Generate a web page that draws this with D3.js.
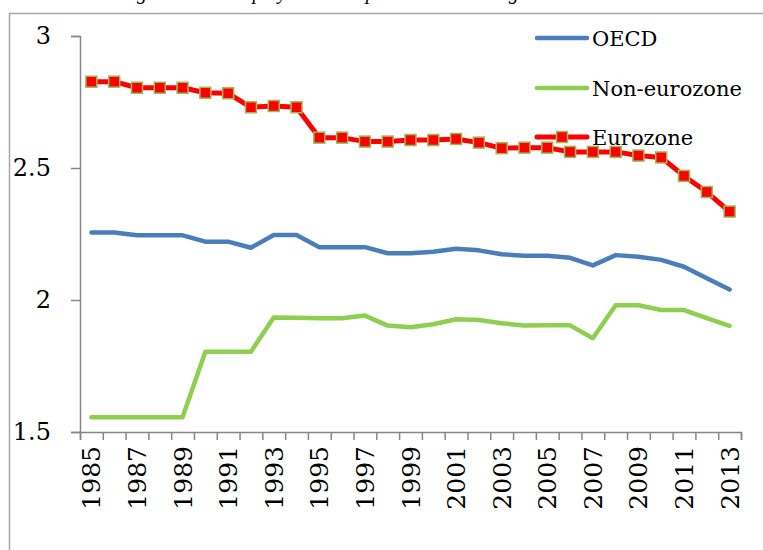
<!DOCTYPE html>
<html>
<head>
<meta charset="utf-8">
<script src="https://cdn.jsdelivr.net/npm/d3@7"></script>
<style>
  html, body { margin: 0; padding: 0; background: #fff; }
  svg { display: block; }
</style>
</head>
<body>
<div id="chart"></div>
<script>
const years = d3.range(1985, 2014);
const yTicks = [1.5, 2, 2.5, 3];
const seriesNames = ["OECD", "Non-eurozone", "Eurozone"];
const captionText = "Trends in regulation in employment and product market regulation";

const oecd = [2.256, 2.256, 2.245, 2.245, 2.245, 2.221, 2.221, 2.198, 2.246, 2.246,
  2.2, 2.2, 2.2, 2.177, 2.177, 2.183, 2.194, 2.188, 2.173, 2.168,
  2.168, 2.16, 2.131, 2.17, 2.164, 2.152, 2.126, 2.082, 2.04];
const nonEurozone = [1.556, 1.556, 1.556, 1.556, 1.556, 1.804, 1.804, 1.804, 1.934, 1.933,
  1.931, 1.931, 1.941, 1.903, 1.897, 1.908, 1.927, 1.924, 1.912, 1.903,
  1.904, 1.904, 1.855, 1.98, 1.98, 1.962, 1.962, 1.931, 1.902];
const eurozone = [2.827, 2.827, 2.804, 2.804, 2.804, 2.785, 2.783, 2.73, 2.735, 2.73,
  2.615, 2.615, 2.6, 2.6, 2.606, 2.606, 2.61, 2.596, 2.575, 2.577,
  2.577, 2.561, 2.561, 2.561, 2.547, 2.54, 2.47, 2.409, 2.335];

(function () {
  const width = 763;
  const height = 550;
  const plot = { left: 80, right: 741, top: 36, bottom: 432 };
  const serif = "'DejaVu Serif', 'Liberation Serif', serif";
  const axisColor = "#868686";
  const colors = { oecd: "#4a7ebb", non: "#8fcf4f", euro: "#ff0000", marker: "#9bbb59" };

  const svg = d3.select("#chart").append("svg")
    .attr("width", width)
    .attr("height", height);

  // caption sits above the frame; the picture is cropped so only descenders show
  const caption = svg.append("text")
    .attr("y", -1.5)
    .attr("font-family", "'Liberation Serif', serif")
    .attr("font-style", "italic")
    .attr("font-size", 20)
    .attr("fill", "#000")
    .text(captionText);
  const node = caption.node();
  const gFirst = captionText.indexOf("g");
  const gLast = captionText.lastIndexOf("g");
  const span = node.getSubStringLength(0, gLast) - node.getSubStringLength(0, gFirst);
  const fs = 20 * 372 / span;
  caption.attr("font-size", fs);
  caption.attr("x", 137 - node.getSubStringLength(0, gFirst));

  // frame
  svg.append("path")
    .attr("d", `M9.5,${height + 2} V13.5 H${width + 2}`)
    .attr("fill", "none")
    .attr("stroke", "#a6a6a6")
    .attr("stroke-width", 1.5);

  const x = d3.scaleBand().domain(years).range([plot.left, plot.right]);
  const xEdge = d3.scaleLinear().domain([0, years.length]).range([plot.left, plot.right]);
  const y = d3.scaleLinear().domain([1.5, 3]).range([plot.bottom, plot.top]);
  const cx = (d, i) => x(years[i]) + x.bandwidth() / 2;

  // y axis
  svg.append("g")
    .attr("transform", `translate(${plot.left},0)`)
    .call(d3.axisLeft(y).tickValues(yTicks).tickSize(9).tickPadding(20).tickFormat((d) => String(d)))
    .call((g) => g.select(".domain").attr("stroke", axisColor).attr("stroke-width", 1.5))
    .call((g) => g.selectAll(".tick line").attr("stroke", axisColor).attr("stroke-width", 1.5))
    .call((g) => g.selectAll("text")
      .attr("font-family", serif)
      .attr("font-size", 24)
      .attr("fill", "#000"));

  // x axis ticks between categories
  svg.append("g")
    .attr("transform", `translate(0,${plot.bottom})`)
    .call(d3.axisBottom(xEdge).tickValues(d3.range(years.length + 1)).tickSize(8).tickFormat(""))
    .call((g) => g.select(".domain").attr("stroke", axisColor).attr("stroke-width", 1.5))
    .call((g) => g.selectAll(".tick line").attr("stroke", axisColor).attr("stroke-width", 1.5));

  // x labels, every second year
  svg.append("g")
    .attr("transform", `translate(0,${plot.bottom})`)
    .call(d3.axisBottom(x).tickValues(years.filter((d) => (d - 1985) % 2 === 0)).tickSize(0))
    .call((g) => g.select(".domain").remove())
    .call((g) => g.selectAll("text")
      .attr("font-family", serif)
      .attr("font-size", 25)
      .attr("fill", "#000")
      .attr("transform", "rotate(-90)")
      .attr("text-anchor", "end")
      .attr("x", -14)
      .attr("y", 0)
      .attr("dy", "0.36em"));

  const line = d3.line().x(cx).y((d) => y(d));

  svg.append("path")
    .datum(oecd)
    .attr("d", line)
    .attr("fill", "none")
    .attr("stroke", colors.oecd)
    .attr("stroke-width", 4.5)
    .attr("stroke-linejoin", "round")
    .attr("stroke-linecap", "round");

  svg.append("path")
    .datum(nonEurozone)
    .attr("d", line)
    .attr("fill", "none")
    .attr("stroke", colors.non)
    .attr("stroke-width", 4.5)
    .attr("stroke-linejoin", "round")
    .attr("stroke-linecap", "round");

  svg.append("path")
    .datum(eurozone)
    .attr("d", line)
    .attr("fill", "none")
    .attr("stroke", colors.euro)
    .attr("stroke-width", 5)
    .attr("stroke-linejoin", "round");

  const ms = 11;
  svg.append("g")
    .selectAll("rect")
    .data(eurozone)
    .join("rect")
    .attr("x", (d, i) => cx(d, i) - ms / 2)
    .attr("y", (d) => y(d) - ms / 2)
    .attr("width", ms)
    .attr("height", ms)
    .attr("fill", colors.euro)
    .attr("stroke", colors.marker)
    .attr("stroke-width", 1.5);

  // legend
  const legendItems = [
    { name: seriesNames[0], color: colors.oecd, marker: false, y: 38 },
    { name: seriesNames[1], color: colors.non, marker: false, y: 88 },
    { name: seriesNames[2], color: colors.euro, marker: true, y: 137 },
  ];
  const legend = svg.append("g");
  legendItems.forEach((item) => {
    legend.append("line")
      .attr("x1", 537)
      .attr("x2", 587)
      .attr("y1", item.y)
      .attr("y2", item.y)
      .attr("stroke", item.color)
      .attr("stroke-width", item.marker ? 5 : 4.5)
      .attr("stroke-linecap", "round");
    if (item.marker) {
      legend.append("rect")
        .attr("x", 562 - ms / 2)
        .attr("y", item.y - ms / 2)
        .attr("width", ms)
        .attr("height", ms)
        .attr("fill", colors.euro)
        .attr("stroke", colors.marker)
        .attr("stroke-width", 1.5);
    }
    legend.append("text")
      .attr("x", 592)
      .attr("y", item.y)
      .attr("dy", "0.36em")
      .attr("font-family", serif)
      .attr("font-size", 21)
      .attr("fill", "#000")
      .text(item.name);
  });
})();
</script>
</body>
</html>
